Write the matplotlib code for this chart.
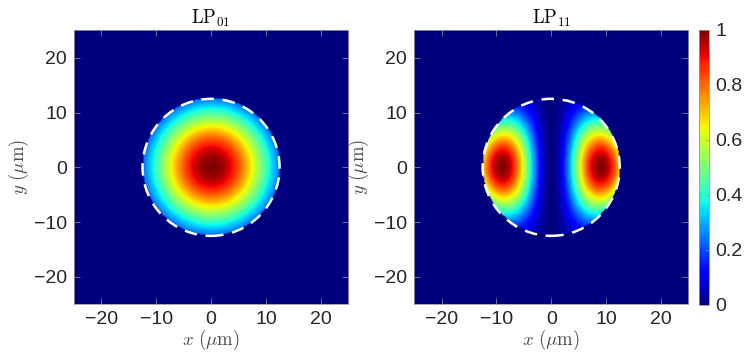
import numpy as np
import matplotlib
matplotlib.use('Agg')
import matplotlib.pyplot as plt
from matplotlib.patches import Circle

plt.rcParams['mathtext.fontset'] = 'cm'
plt.rcParams['font.family'] = ['Liberation Sans', 'DejaVu Sans']

# Parametros
extent = 25.0          # ventana +-25 um
core_radius = 12.5     # radio del nucleo (um)
u_lp01 = 1.55          # parametro transversal LP01
u_lp11 = 2.56          # parametro transversal LP11
titles = [r'$\mathrm{LP}_{01}$', r'$\mathrm{LP}_{11}$']
ticks = [-20, -10, 0, 10, 20]
cbar_ticks = [0, 0.2, 0.4, 0.6, 0.8, 1]


def bessel_j(n, z):
    # representacion integral de J_n
    tau = np.linspace(0, np.pi, 400)
    vals = np.cos(n * tau[None, :] - z.ravel()[:, None] * np.sin(tau[None, :]))
    return (np.trapezoid(vals, tau, axis=1) / np.pi).reshape(z.shape)


n = 301
xs = np.linspace(-extent, extent, n)
X, Y = np.meshgrid(xs, xs)
R = np.hypot(X, Y)
PHI = np.arctan2(Y, X)
inside = R <= core_radius

I01 = bessel_j(0, u_lp01 * R / core_radius) ** 2
I01 = np.where(inside, I01, 0)
I01 /= I01.max()

I11 = (bessel_j(1, u_lp11 * R / core_radius) * np.cos(PHI)) ** 2
I11 = np.where(inside, I11, 0)
I11 /= I11.max()

fig = plt.figure(figsize=(7.53, 3.63), dpi=100)
ax1 = fig.add_axes([0.0983, 0.160, 0.364, 0.758])
ax2 = fig.add_axes([0.550, 0.160, 0.364, 0.758])
cax = fig.add_axes([0.928, 0.160, 0.0133, 0.758])

fs = 14
for ax, img, title in [(ax1, I01, titles[0]), (ax2, I11, titles[1])]:
    im = ax.imshow(img, cmap='jet', vmin=0, vmax=1, origin='lower',
                   extent=[-extent, extent, -extent, extent], interpolation='bilinear')
    ax.add_patch(Circle((0, 0), core_radius, fill=False, edgecolor='white',
                        linestyle=(0, (5, 3.5)), linewidth=1.8))
    ax.set_xlim(-extent, extent)
    ax.set_ylim(-extent, extent)
    ax.set_xticks(ticks)
    ax.set_yticks(ticks)
    ax.tick_params(direction='in', length=4, width=0.5, color='0.6', labelsize=fs,
                   labelcolor='0.15', top=True, right=True, pad=5)
    for s in ax.spines.values():
        s.set_color('0.6')
        s.set_linewidth(0.6)
    ax.set_title(title, fontsize=13.5, pad=5)
    ax.set_xlabel(r'$x\ (\mu\mathrm{m})$', fontsize=13.5, labelpad=0, color='0.3')
    ax.set_ylabel(r'$y\ (\mu\mathrm{m})$', fontsize=13.5, labelpad=2, color='0.3')

cb = fig.colorbar(im, cax=cax, ticks=cbar_ticks)
cb.ax.set_yticklabels(['0', '0.2', '0.4', '0.6', '0.8', '1'])
cb.ax.tick_params(direction='in', length=3, width=0.5, color='0.6', labelsize=fs,
                  labelcolor='0.15', pad=5)
cb.outline.set_edgecolor('0.6')
cb.outline.set_linewidth(0.6)

fig.savefig('out.png', dpi=100)
